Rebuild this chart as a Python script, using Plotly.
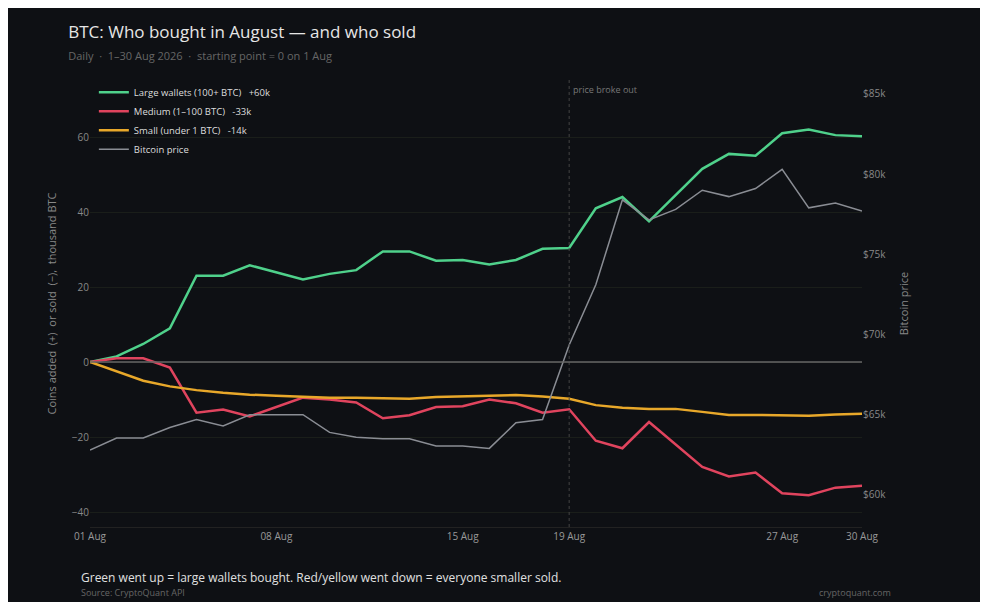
import plotly.graph_objects as go
import pandas as pd

dates = pd.date_range("2026-08-01", "2026-08-30").strftime("%Y-%m-%d").tolist()
large = [0,1.5,4.8,9,23,23,25.8,24,22,23.5,24.5,29.5,29.5,27,27.2,26,27.2,30.2,30.4,41,44,37.5,44.5,51.5,55.5,55,61,62,60.5,60.2]
medium = [0,1,1,-1.5,-13.5,-12.7,-14.5,-12,-9.5,-10,-10.8,-15,-14.2,-12,-11.8,-10,-11,-13.5,-12.6,-21,-23,-16,-22,-28,-30.5,-29.5,-35,-35.5,-33.5,-33]
small = [0,-2.5,-5,-6.5,-7.5,-8.2,-8.7,-9,-9.3,-9.5,-9.5,-9.6,-9.8,-9.3,-9.2,-8.9,-8.8,-9.2,-9.8,-11.5,-12.2,-12.5,-12.5,-13.3,-14.1,-14.1,-14.2,-14.3,-14.0,-13.8]
price = [62.8,63.55,63.55,64.2,64.7,64.3,65.0,65.0,65.0,63.9,63.6,63.5,63.5,63.05,63.05,62.9,64.5,64.7,69.35,73.1,78.4,77.15,77.8,79.0,78.6,79.1,80.3,77.9,78.2,77.7]
price_usd = [p*1000 for p in price]
tick_dates = ["2026-08-01","2026-08-08","2026-08-15","2026-08-19","2026-08-27","2026-08-30"]
tick_text = ["01 Aug","08 Aug","15 Aug","19 Aug","27 Aug","30 Aug"]

F = "Open Sans"
fig = go.Figure()
fig.add_trace(go.Scatter(x=dates, y=large, name="Large wallets (100+ BTC)   +60k", line=dict(color="#4fd18b", width=2.5), mode="lines"))
fig.add_trace(go.Scatter(x=dates, y=medium, name="Medium (1–100 BTC)   -33k", line=dict(color="#e0445e", width=2.5), mode="lines"))
fig.add_trace(go.Scatter(x=dates, y=small, name="Small (under 1 BTC)   -14k", line=dict(color="#e8a82a", width=2.5), mode="lines"))
fig.add_trace(go.Scatter(x=dates, y=price_usd, name="Bitcoin price", line=dict(color="#8a8d94", width=1.5), mode="lines", yaxis="y2"))

fig.add_shape(type="line", x0="2026-08-19", x1="2026-08-19", y0=0, y1=1, yref="paper", line=dict(color="#444", width=1, dash="3px,3px"))
fig.add_shape(type="line", x0=0, x1=1, xref="paper", y0=0, y1=0, line=dict(color="#666", width=1.5))
fig.add_annotation(x="2026-08-19", y=1, yref="paper", text="price broke out", showarrow=False, xanchor="left", yanchor="top", xshift=2, yshift=-1, font=dict(size=9, color="#777", family=F))

fig.update_layout(
    width=988, height=602, paper_bgcolor="#0e1014", plot_bgcolor="#0e1014",
    font=dict(family=F, color="#888"),
    margin=dict(l=82, r=134, t=72, b=83),
    title=dict(text="BTC: Who bought in August — and who sold<br><span style='font-size:11px;color:#666'>Daily  ·  1–30 Aug 2026  ·  starting point = 0 on 1 Aug</span>",
               x=0.061, xanchor="left", y=0.95, yanchor="top", font=dict(size=17, color="#e6e6e6", family=F)),
    xaxis=dict(tickvals=tick_dates, ticktext=tick_text, range=["2026-08-01","2026-08-30"], showgrid=False, zeroline=False,
               tickfont=dict(size=10, color="#999"), showline=True, linecolor="#222"),
    yaxis=dict(range=[-44, 75.2], tickvals=[-40,-20,0,20,40,60], gridcolor="#1a1e1a", zeroline=False,
               title=dict(text="Coins added  (+)  or sold  (−),  thousand BTC", font=dict(size=11, color="#888"), standoff=12),
               tickfont=dict(size=10, color="#888")),
    yaxis2=dict(overlaying="y", side="right", range=[58000, 85870], tickvals=[60000,65000,70000,75000,80000,85000],
                ticktext=["$60k","$65k","$70k","$75k","$80k","$85k"], showgrid=False, zeroline=False,
                title=dict(text="Bitcoin price", font=dict(size=11, color="#888")), tickfont=dict(size=10, color="#888")),
    legend=dict(x=0.005, y=1.005, xanchor="left", yanchor="top", bgcolor="rgba(0,0,0,0)", font=dict(size=9.5, color="#ddd"), tracegroupgap=0),
    showlegend=True,
)
fig.add_annotation(xref="paper", yref="paper", x=-0.014, y=-0.09, text="Green went up = large wallets bought. Red/yellow went down = everyone smaller sold.", showarrow=False, xanchor="left", yanchor="top", font=dict(size=12, color="#e0e0e0", family=F))
fig.add_annotation(xref="paper", yref="paper", x=-0.014, y=-0.128, text="Source: CryptoQuant API", showarrow=False, xanchor="left", yanchor="top", font=dict(size=9, color="#666", family=F))
fig.add_annotation(xref="paper", yref="paper", x=1.04, y=-0.128, text="cryptoquant.com", showarrow=False, xanchor="right", yanchor="top", font=dict(size=9, color="#666", family=F))
fig.write_html("out.html")
